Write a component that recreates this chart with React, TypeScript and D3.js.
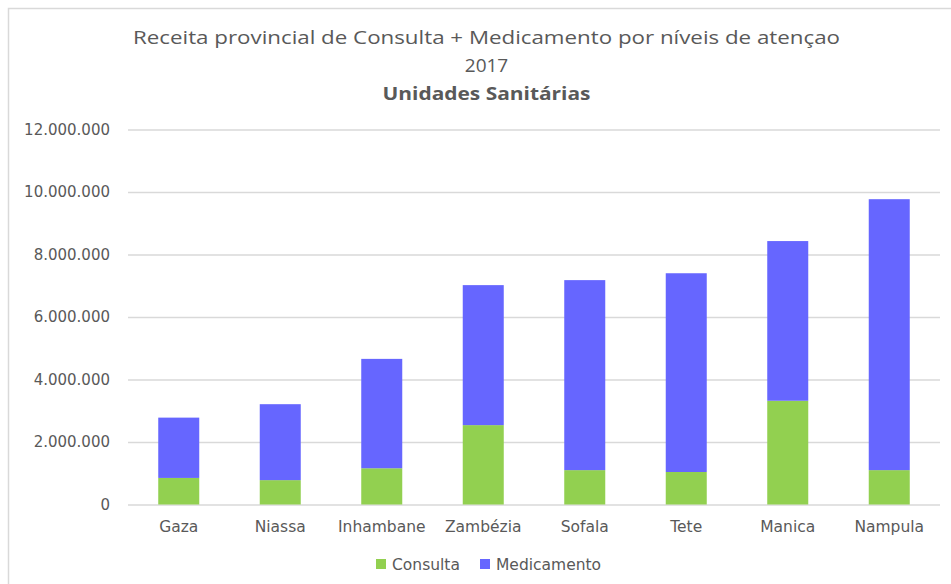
import { useEffect, useRef } from 'react';
import * as d3 from 'd3';

// Values (in units)
const provinces = ['Gaza', 'Niassa', 'Inhambane', 'Zambézia', 'Sofala', 'Tete', 'Manica', 'Nampula'];
const consulta = [850000, 780000, 1160000, 2540000, 1100000, 1040000, 3320000, 1100000];
const medicamento = [1930000, 2430000, 3500000, 4480000, 6080000, 6360000, 5110000, 8670000];
const yTicks = [0, 2000000, 4000000, 6000000, 8000000, 10000000, 12000000];

const seriesNames = ['Consulta', 'Medicamento'];
const seriesColors = ['#92D050', '#6666FF'];

const W = 951;
const H = 584;

const fmt = (v: number) => d3.format(',')(v).replace(/,/g, '.');

function StackedChart() {
  const svgRef = useRef<SVGSVGElement>(null);

  useEffect(() => {
    if (!svgRef.current) return;
    const svg = d3.select(svgRef.current);
    svg.selectAll('*').remove();

    const textColor = '#595959';
    const gridColor = '#D9D9D9';
    const plot = { left: 128, right: 940, top: 129.5, bottom: 504.5 };

    // chart frame
    svg.append('rect')
      .attr('x', 8.5)
      .attr('y', 8.5)
      .attr('width', W + 20)
      .attr('height', H + 20)
      .attr('fill', '#fff')
      .attr('stroke', gridColor)
      .attr('stroke-width', 1.5);

    const x = d3.scaleBand()
      .domain(provinces)
      .range([plot.left, plot.right])
      .paddingInner(0.596)
      .paddingOuter(0.298);

    const y = d3.scaleLinear().domain([0, 12000000]).range([plot.bottom, plot.top]);

    // Grid + y labels
    const yAxis = svg.append('g')
      .attr('transform', `translate(${plot.left},0)`)
      .call(
        d3.axisLeft(y)
          .tickValues(yTicks)
          .tickSize(-(plot.right - plot.left))
          .tickPadding(18)
          .tickFormat((d) => fmt(d as number))
      );
    yAxis.select('.domain').remove();
    yAxis.selectAll('line').attr('stroke', gridColor).attr('stroke-width', 1.5);
    yAxis.selectAll('text')
      .attr('fill', textColor)
      .attr('font-family', '"DejaVu Sans", Verdana, sans-serif')
      .attr('font-size', '15px');

    // Stacked bars
    const rows = provinces.map((p, i) => ({ province: p, Consulta: consulta[i], Medicamento: medicamento[i] }));
    const stacked = d3.stack<any>().keys(seriesNames)(rows);

    svg.append('g')
      .selectAll('g')
      .data(stacked)
      .enter()
      .append('g')
      .attr('fill', (_d, i) => seriesColors[i])
      .selectAll('rect')
      .data((d) => d)
      .enter()
      .append('rect')
      .attr('x', (d: any) => x(d.data.province) || 0)
      .attr('y', (d) => y(d[1]))
      .attr('width', x.bandwidth())
      .attr('height', (d) => y(d[0]) - y(d[1]));

    // Category labels
    svg.append('g')
      .selectAll('text')
      .data(provinces)
      .enter()
      .append('text')
      .attr('x', (d) => (x(d) || 0) + x.bandwidth() / 2)
      .attr('y', 532)
      .attr('text-anchor', 'middle')
      .attr('fill', textColor)
      .attr('font-family', '"DejaVu Sans", Verdana, sans-serif')
      .attr('font-size', '15.5px')
      .text((d) => d);

    // Legend
    const legendX = [376, 480];
    const legend = svg.append('g');
    seriesNames.forEach((name, i) => {
      legend.append('rect')
        .attr('x', legendX[i])
        .attr('y', 559)
        .attr('width', 10)
        .attr('height', 10)
        .attr('fill', seriesColors[i]);
      legend.append('text')
        .attr('x', legendX[i] + 16)
        .attr('y', 569.5)
        .attr('fill', textColor)
        .attr('font-family', '"DejaVu Sans", Verdana, sans-serif')
        .attr('font-size', '15.5px')
        .text(name);
    });

    // Titles
    const cx = 486.5;
    svg.append('text')
      .attr('x', cx)
      .attr('y', 44)
      .attr('text-anchor', 'middle')
      .attr('fill', textColor)
      .attr('font-family', '"Open Sans", sans-serif')
      .attr('font-size', '19px')
      .attr('textLength', 707)
      .attr('lengthAdjust', 'spacingAndGlyphs')
      .text('Receita provincial de Consulta + Medicamento por níveis de atençao');
    svg.append('text')
      .attr('x', cx)
      .attr('y', 72)
      .attr('text-anchor', 'middle')
      .attr('fill', textColor)
      .attr('font-family', '"Open Sans", sans-serif')
      .attr('font-size', '19px')
      .text('2017');
    svg.append('text')
      .attr('x', cx)
      .attr('y', 100)
      .attr('text-anchor', 'middle')
      .attr('fill', textColor)
      .attr('font-family', '"Open Sans", sans-serif')
      .attr('font-weight', 'bold')
      .attr('font-size', '18px')
      .attr('textLength', 208)
      .attr('lengthAdjust', 'spacingAndGlyphs')
      .text('Unidades Sanitárias');
  }, []);

  return <svg ref={svgRef} width={W} height={H} style={{ display: 'block' }} />;
}

export default function App() {
  return (
    <div style={{ position: 'absolute', left: 0, top: 0, width: W, height: H, overflow: 'hidden', background: '#fff' }}>
      <StackedChart />
    </div>
  );
}
